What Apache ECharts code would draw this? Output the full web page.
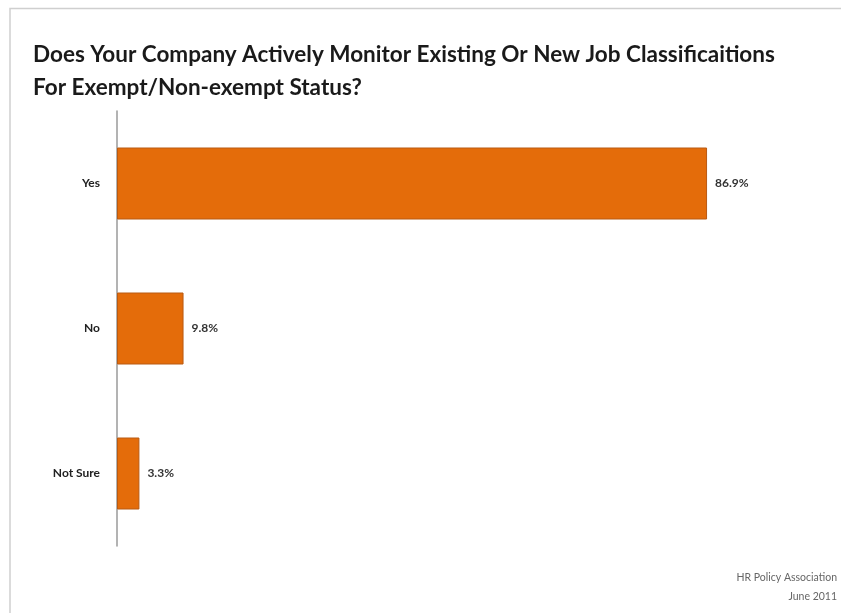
<!DOCTYPE html>
<html>
<head>
<meta charset="utf-8">
<script src="https://cdn.jsdelivr.net/npm/echarts@6/dist/echarts.min.js"></script>
<style>
  html, body { margin: 0; padding: 0; background: #fff; }
  #chart { width: 841px; height: 613px; }
</style>
</head>
<body>
<div id="chart"></div>
<script>
// Survey answers, top to bottom
const categories = ['Yes', 'No', 'Not Sure'];
const shares = [86.9, 9.8, 3.3];

const titleText = 'Does Your Company Actively Monitor Existing Or New Job Classificaitions\nFor Exempt/Non-exempt Status?';
const sourceLines = ['HR Policy Association', 'June 2011'];

const chart = echarts.init(document.getElementById('chart'));

chart.setOption({
  backgroundColor: '#ffffff',
  animation: false,
  title: {
    text: titleText,
    left: 28,
    top: 33,
    textStyle: {
      fontFamily: 'Lato',
      fontWeight: 'bold',
      fontSize: 22.5,
      lineHeight: 33,
      color: '#1a1a1a'
    }
  },
  graphic: [
    {
      type: 'polyline',
      shape: { points: [[10, 613], [10, 8.5], [841, 8.5]] },
      style: { stroke: '#cfcfcf', lineWidth: 1.5, fill: null },
      silent: true
    },
    ...sourceLines.map((line, i) => ({
      type: 'text',
      right: 4,
      top: 572 + i * 19,
      style: {
        text: line,
        fontFamily: 'Lato',
        fontSize: 10.5,
        fill: '#666'
      }
    }))
  ],
  grid: {
    left: 117,
    top: 111,
    width: 679,
    height: 435,
    containLabel: false
  },
  xAxis: {
    type: 'value',
    min: 0,
    max: 100,
    show: false
  },
  yAxis: {
    type: 'category',
    data: categories,
    inverse: true,
    axisLine: { show: true, lineStyle: { color: '#9a9a9a', width: 1.5 } },
    axisTick: { show: false },
    axisLabel: {
      margin: 17,
      fontFamily: 'Lato',
      fontWeight: 'bold',
      fontSize: 12,
      color: '#222'
    }
  },
  series: [{
    type: 'bar',
    data: shares,
    barWidth: 72,
    itemStyle: {
      color: '#E46C0A',
      borderColor: '#B95A12',
      borderWidth: 1
    },
    label: {
      show: true,
      position: 'right',
      distance: 8,
      formatter: p => p.value.toFixed(1) + '%',
      fontFamily: 'Lato',
      fontWeight: 'bold',
      fontSize: 12,
      color: '#333'
    }
  }]
});
</script>
</body>
</html>
